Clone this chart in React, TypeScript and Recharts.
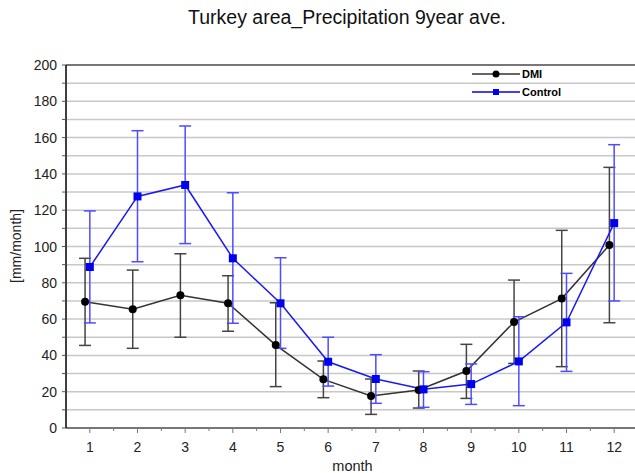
import { LineChart, Line, XAxis, YAxis, CartesianGrid, ErrorBar } from 'recharts';

const MONTHS = [1, 2, 3, 4, 5, 6, 7, 8, 9, 10, 11, 12];
const X_TICKS = [1, 1.5, 2, 2.5, 3, 3.5, 4, 4.5, 5, 5.5, 6, 6.5, 7, 7.5, 8, 8.5, 9, 9.5, 10, 10.5, 11, 11.5, 12];
const Y_TICKS = [0, 10, 20, 30, 40, 50, 60, 70, 80, 90, 100, 110, 120, 130, 140, 150, 160, 170, 180, 190, 200];

const DMI_MEAN = [69.6, 65.4, 73.1, 68.7, 45.7, 26.8, 17.6, 20.9, 31.4, 58.4, 71.3, 100.8];
const DMI_HIGH = [93.5, 87, 96, 83.9, 69, 36.9, 27, 31.4, 46.1, 81.5, 108.9, 143.6];
const DMI_LOW = [45.5, 43.9, 50, 53.3, 22.8, 16.7, 7.5, 11, 16.3, 35.6, 33.8, 58];

const CTRL_MEAN = [88.7, 127.6, 133.9, 93.5, 68.7, 36.5, 27, 21.3, 24.2, 36.7, 58.2, 112.9];
const CTRL_HIGH = [119.6, 163.8, 166.4, 129.6, 93.8, 50, 40.4, 31, 35.3, 61.3, 85.2, 156.1];
const CTRL_LOW = [57.9, 91.6, 101.6, 57.7, 43.9, 23.1, 13.6, 11.4, 13, 12.3, 31.2, 70];

// DMI points sit a little left of the month tick in the original
const dmiData = MONTHS.map((m, i) => ({
  x: m - 0.1,
  y: DMI_MEAN[i],
  err: [DMI_MEAN[i] - DMI_LOW[i], DMI_HIGH[i] - DMI_MEAN[i]],
}));
const ctrlData = MONTHS.map((m, i) => ({
  x: m,
  y: CTRL_MEAN[i],
  err: [CTRL_MEAN[i] - CTRL_LOW[i], CTRL_HIGH[i] - CTRL_MEAN[i]],
}));

const FONT = '"Liberation Sans", Arial, sans-serif';

const BottomTick = (props: any) => {
  const { x, y, payload } = props;
  const major = Number.isInteger(payload.value);
  return (
    <g>
      <line x1={x} x2={x} y1={y} y2={y + (major ? 5 : 3)} stroke="#777" strokeWidth={1} />
      {major && (
        <text x={x} y={y + 24} textAnchor="middle" fontSize={14} fill="#222" fontFamily={FONT}>
          {payload.value}
        </text>
      )}
    </g>
  );
};

const TopTick = (props: any) => {
  const { x, y, payload } = props;
  const major = Number.isInteger(payload.value);
  return <line x1={x} x2={x} y1={y} y2={y - (major ? 5 : 3)} stroke="#777" strokeWidth={1} />;
};

const LeftTick = (props: any) => {
  const { x, y, payload } = props;
  const labelled = payload.value % 20 === 0;
  return (
    <g>
      <line x1={x - 4} x2={x} y1={y} y2={y} stroke="#555" strokeWidth={1} />
      {labelled && (
        <text x={x - 9} y={y + 5} textAnchor="end" fontSize={14} fill="#222" fontFamily={FONT}>
          {payload.value}
        </text>
      )}
    </g>
  );
};

function LegendBox() {
  return (
    <div style={{ position: 'absolute', left: 470, top: 65, fontFamily: FONT, fontSize: 11, fontWeight: 'bold' }}>
      <div style={{ display: 'flex', alignItems: 'center', height: 18 }}>
        <svg width={52} height={10}>
          <line x1={2} x2={50} y1={5} y2={5} stroke="#333" strokeWidth={1.5} />
          <circle cx={26} cy={5} r={3.5} fill="#000" />
        </svg>
        <span>DMI</span>
      </div>
      <div style={{ display: 'flex', alignItems: 'center', height: 18 }}>
        <svg width={52} height={10}>
          <line x1={2} x2={50} y1={5} y2={5} stroke="#0000ee" strokeWidth={1.5} />
          <rect x={23} y={2} width={6} height={6} fill="#0000ee" />
        </svg>
        <span>Control</span>
      </div>
    </div>
  );
}

const Square = (props: any) => {
  const { cx, cy } = props;
  if (cx == null || cy == null) return null;
  return <rect x={cx - 4} y={cy - 4} width={8} height={8} fill="#0000ee" />;
};

export default function App() {
  return (
    <div style={{ position: 'absolute', left: 0, top: 0, width: 635, height: 473, overflow: 'hidden', background: '#fff' }}>
      <div style={{ position: 'absolute', left: 0, width: 694, top: 6, textAlign: 'center', fontFamily: FONT, fontSize: 19.5, color: '#111' }}>
        Turkey area_Precipitation 9year ave.
      </div>
      <div
        style={{
          position: 'absolute', left: 16, top: 246, transform: 'translate(-50%, -50%) rotate(-90deg)',
          fontFamily: FONT, fontSize: 14, color: '#222', whiteSpace: 'nowrap',
        }}
      >
        [mm/month]
      </div>
      <div style={{ position: 'absolute', left: 0, width: 705, top: 458, textAlign: 'center', fontFamily: FONT, fontSize: 14.5, color: '#222' }}>
        month
      </div>
      <div style={{ position: 'absolute', left: 0, top: 0 }}>
        <LineChart width={640} height={473} margin={{ top: 45, right: 2, bottom: 20, left: 16 }}>
          <CartesianGrid vertical={false} stroke="#c8c8c8" strokeWidth={1.5} />
          <XAxis
            dataKey="x"
            type="number"
            domain={[0.5, 12.5]}
            ticks={X_TICKS}
            interval={0}
            height={25}
            tickSize={0}
            tickMargin={0}
            tickLine={false}
            tick={<BottomTick />}
            axisLine={{ stroke: '#777', strokeWidth: 2 }}
            allowDuplicatedCategory={false}
          />
          <XAxis
            xAxisId="top"
            orientation="top"
            dataKey="x"
            type="number"
            domain={[0.5, 12.5]}
            ticks={X_TICKS}
            interval={0}
            height={20}
            tickSize={0}
            tickMargin={0}
            tickLine={false}
            tick={<TopTick />}
            axisLine={{ stroke: '#777', strokeWidth: 2 }}
          />
          <YAxis
            type="number"
            domain={[0, 200]}
            ticks={Y_TICKS}
            interval={0}
            width={50}
            tickSize={0}
            tickMargin={0}
            tickLine={false}
            tick={<LeftTick />}
            axisLine={{ stroke: '#000', strokeWidth: 1.5 }}
          />
          <Line
            data={dmiData}
            dataKey="y"
            stroke="#333"
            strokeWidth={1.5}
            dot={{ r: 4, fill: '#000', stroke: '#000', strokeWidth: 0 }}
            isAnimationActive={false}
          >
            <ErrorBar dataKey="err" width={6} stroke="#444" strokeWidth={1.5} direction="y" />
          </Line>
          <Line
            data={ctrlData}
            dataKey="y"
            stroke="#1a1aee"
            strokeWidth={1.5}
            dot={<Square />}
            isAnimationActive={false}
          >
            <ErrorBar dataKey="err" width={6} stroke="#4d4dff" strokeWidth={1.5} direction="y" />
          </Line>
        </LineChart>
      </div>
      <LegendBox />
    </div>
  );
}
